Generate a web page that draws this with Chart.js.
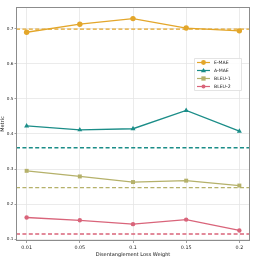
<!DOCTYPE html>
<html><head><meta charset="utf-8">
<script src="https://cdn.jsdelivr.net/npm/chart.js@4/dist/chart.umd.min.js"></script>
<style>html,body{margin:0;padding:0;background:#fff}#wrap{width:258px;height:258px}</style>
</head><body><div id="wrap"><canvas id="c" width="258" height="258"></canvas></div>
<script>
const categories = ["0.01", "0.05", "0.1", "0.15", "0.2"];
const seriesNames = ["E-MAE", "A-MAE", "BLEU-1", "BLEU-2"];
const eMae  = [0.690, 0.713, 0.729, 0.702, 0.694];
const aMae  = [0.423, 0.412, 0.415, 0.467, 0.408];
const bleu1 = [0.295, 0.279, 0.263, 0.267, 0.253];
const bleu2 = [0.162, 0.154, 0.143, 0.156, 0.125];
const baselines = [0.699, 0.361, 0.247, 0.115];
const yTicks = [0.1, 0.2, 0.3, 0.4, 0.5, 0.6, 0.7];

const colors = ["#e3a62a", "#1b8d88", "#b5b16a", "#d9647a"];
const markers = ["circle", "triangle", "rect", "circle"];
const radii = [2.7, 2.9, 2.8, 2.2];
const series = [eMae, aMae, bleu1, bleu2];
const FONT = "DejaVu Sans";

const datasets = [];
series.forEach((vals, i) => {
  datasets.push({
    label: seriesNames[i],
    data: vals.map((v, k) => ({x: k, y: v})),
    borderColor: colors[i], backgroundColor: colors[i],
    borderWidth: 1.3, pointStyle: markers[i], pointRadius: radii[i],
    pointBorderWidth: 0, showLine: true, order: 1
  });
});
const xMin = -0.2, xMax = categories.length - 1 + 0.2;
baselines.forEach((b, i) => {
  datasets.push({
    label: seriesNames[i] + " baseline",
    data: [{x: xMin, y: b}, {x: xMax, y: b}],
    borderColor: colors[i], borderWidth: 1.4, borderDash: [4, 2.4],
    pointRadius: 0, showLine: true, order: 2
  });
});

const framePlugin = {
  id: 'frame',
  afterDraw(chart) {
    const {ctx, chartArea: a} = chart;
    ctx.save();
    ctx.strokeStyle = '#8c8c8c'; ctx.lineWidth = 1;
    ctx.strokeRect(a.left + 0.5, a.top + 0.5, a.right - a.left - 1, a.bottom - a.top - 1);
    const lx = 194, ly = 58, lw = 47, lh = 32;
    ctx.fillStyle = 'rgba(255,255,255,0.85)';
    ctx.strokeStyle = '#dddddd'; ctx.lineWidth = 0.8;
    ctx.beginPath(); ctx.rect(lx + 0.5, ly + 0.5, lw, lh); ctx.fill(); ctx.stroke();
    ctx.font = '4.6px "' + FONT + '"'; ctx.textBaseline = 'middle'; ctx.textAlign = 'left';
    seriesNames.forEach((n, i) => {
      const y = ly + 4.5 + i * 8;
      ctx.strokeStyle = colors[i]; ctx.lineWidth = 1.2;
      ctx.beginPath(); ctx.moveTo(lx + 3, y); ctx.lineTo(lx + 16, y); ctx.stroke();
      ctx.fillStyle = colors[i];
      const cx = lx + 9.5, r = radii[i] * 0.9;
      ctx.beginPath();
      if (markers[i] === 'circle') ctx.arc(cx, y, r, 0, Math.PI * 2);
      else if (markers[i] === 'rect') ctx.rect(cx - r * 0.85, y - r * 0.85, r * 1.7, r * 1.7);
      else { ctx.moveTo(cx, y - r); ctx.lineTo(cx + r, y + r * 0.7); ctx.lineTo(cx - r, y + r * 0.7); ctx.closePath(); }
      ctx.fill();
      ctx.fillStyle = '#222';
      ctx.fillText(n, lx + 20, y + 0.3);
    });
    ctx.restore();
  }
};

new Chart(document.getElementById('c'), {
  type: 'scatter',
  data: {datasets},
  options: {
    responsive: false, animation: false, devicePixelRatio: 1,
    layout: {padding: {top: 7, right: 8, left: 0, bottom: 0}},
    plugins: {legend: {display: false}, tooltip: {enabled: false}},
    scales: {
      x: {
        type: 'linear', min: xMin, max: xMax,
        afterBuildTicks(ax) { ax.ticks = categories.map((c, k) => ({value: k})); },
        afterFit(ax) { ax.height = 17; },
        ticks: {callback: (v) => categories[v] ?? '', font: {family: FONT, size: 4.8}, color: '#222', padding: 2, maxRotation: 0, autoSkip: false},
        grid: {color: '#e6e6e6', lineWidth: 0.8, tickLength: 2, drawTicks: true, tickColor: '#888'},
        border: {display: false},
        title: {display: true, text: 'Disentanglement Loss Weight', font: {family: FONT, size: 5}, color: '#111', padding: {top: 0, bottom: 0}}
      },
      y: {
        min: 0.095, max: 0.762,
        afterBuildTicks(ax) { ax.ticks = yTicks.map(v => ({value: v})); },
        afterFit(ax) { ax.width = 16; },
        ticks: {callback: (v) => v.toFixed(1), font: {family: FONT, size: 4.2}, color: '#222', padding: 1},
        grid: {color: '#e6e6e6', lineWidth: 0.8, tickLength: 1.5, tickColor: '#888'},
        border: {display: false},
        title: {display: true, text: 'Metric', font: {family: FONT, size: 5}, color: '#111', padding: {top: 0, bottom: 0}}
      }
    }
  },
  plugins: [framePlugin]
});
</script>
</body></html>
